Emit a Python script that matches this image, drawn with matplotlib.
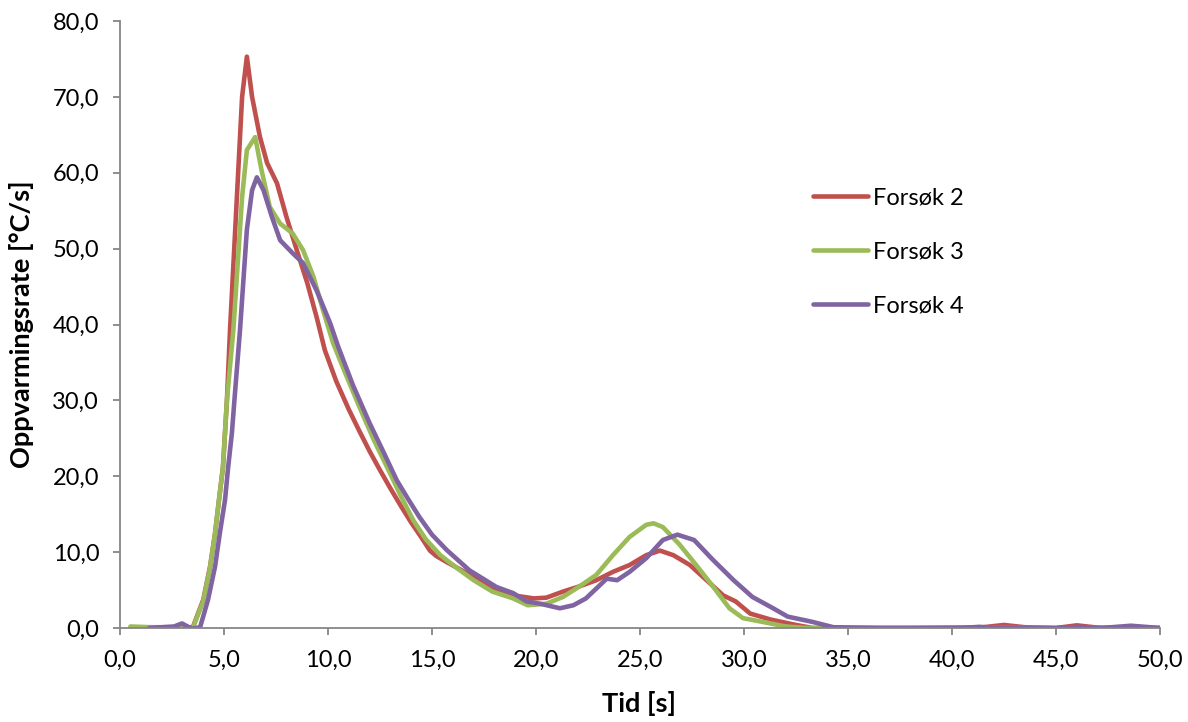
import matplotlib
matplotlib.use("Agg")
import matplotlib.pyplot as plt
from matplotlib.ticker import FuncFormatter, MultipleLocator

plt.rcParams['font.family'] = ['Lato', 'DejaVu Sans']

# Forsøk 2
t2 = [0.5, 1.5, 2.5, 3.5, 4.0, 4.33, 4.57, 4.76, 4.95, 5.14, 5.29, 5.62, 5.87, 6.1, 6.35,
      6.73, 7.07, 7.55, 8.0, 8.5, 9.0, 9.45, 9.85, 10.4, 11.0, 11.5, 12.0, 12.5, 13.0,
      13.5, 14.0, 14.5, 14.9, 15.2, 15.7, 16.7, 17.6, 18.9, 19.9, 20.5, 21.3, 22.1, 22.9,
      23.7, 24.5, 25.3, 25.96, 26.6, 27.4, 28.2, 29.0, 29.6, 30.3, 31.3, 32.5, 33.3, 35.0,
      38.0, 40.0, 41.5, 42.5, 43.5, 45.0, 46.0, 47.0, 48.0, 50.0]
y2 = [0.0, 0.1, 0.1, 0.1, 3.7, 8.1, 12.5, 16.9, 21.2, 30.0, 39.3, 56.8, 70.0, 75.3, 70.0,
      64.7, 61.3, 58.6, 54.2, 49.8, 45.5, 41.0, 36.6, 32.5, 28.8, 26.0, 23.3, 20.8, 18.4,
      16.1, 13.9, 11.9, 10.2, 9.5, 8.7, 7.2, 5.7, 4.3, 3.9, 4.0, 4.8, 5.5, 6.3,
      7.4, 8.3, 9.6, 10.2, 9.6, 8.3, 6.3, 4.3, 3.5, 1.9, 1.1, 0.4, 0.0, 0.0,
      0.0, 0.05, 0.1, 0.4, 0.1, 0.0, 0.35, 0.05, 0.0, 0.0]

# Forsøk 3
t3 = [0.5, 1.5, 2.5, 3.5, 4.0, 4.33, 4.57, 4.76, 4.95, 5.14, 5.45, 5.87, 6.1, 6.5, 6.8,
      7.2, 7.7, 8.3, 8.8, 9.3, 9.76, 10.24, 10.8, 11.5, 12.2, 13.0, 13.5, 14.1, 14.7,
      15.4, 16.2, 17.0, 17.9, 18.9, 19.6, 20.5, 21.3, 22.1, 22.9, 23.7, 24.5, 25.3, 25.65,
      26.1, 26.9, 27.7, 28.5, 29.3, 29.95, 30.9, 32.0, 33.0, 36.0, 40.0, 44.0, 45.5, 47.0,
      50.0]
y3 = [0.2, 0.1, 0.0, 0.0, 3.5, 8.0, 12.5, 16.9, 21.2, 30.0, 39.3, 56.8, 63.0, 64.7, 60.4,
      55.5, 53.3, 52.0, 49.8, 46.3, 41.9, 37.6, 33.8, 29.2, 24.8, 20.3, 17.4, 14.2, 11.7,
      9.6, 7.9, 6.3, 4.8, 3.9, 3.0, 3.2, 4.1, 5.5, 7.0, 9.6, 12.0, 13.6, 13.8,
      13.3, 11.0, 8.3, 5.5, 2.6, 1.3, 0.8, 0.2, 0.0, 0.0, 0.0, 0.0, -0.05, 0.0,
      0.0]

# Forsøk 4
t4 = [1.4, 2.0, 2.6, 2.98, 3.45, 3.85, 4.23, 4.57, 4.8, 5.05, 5.2, 5.38, 5.5, 5.77, 6.1,
      6.35, 6.58, 6.9, 7.3, 7.7, 8.3, 8.8, 9.45, 10.1, 10.5, 11.2, 12.0, 12.7, 13.3, 13.85,
      14.4, 15.0, 15.7, 16.8, 18.1, 18.9, 19.55, 20.2, 21.15, 21.8, 22.4, 22.9, 23.4, 23.9,
      24.5, 25.3, 26.1, 26.8, 27.6, 28.5, 29.5, 30.4, 31.4, 32.1, 33.3, 34.3, 36.5, 39.0,
      40.5, 41.3, 42.2, 45.0, 46.1, 47.2, 48.6, 50.0]
y4 = [0.0, 0.1, 0.2, 0.6, -0.1, 0.1, 3.7, 8.1, 12.5, 16.9, 21.2, 25.7, 30.0, 39.3, 52.5,
      57.7, 59.4, 57.7, 54.2, 51.1, 49.4, 48.1, 44.5, 40.2, 37.0, 32.0, 27.0, 23.0, 19.5, 17.0,
      14.6, 12.3, 10.3, 7.6, 5.4, 4.6, 3.5, 3.2, 2.6, 3.0, 3.9, 5.2, 6.5, 6.3,
      7.4, 9.2, 11.6, 12.3, 11.6, 9.0, 6.3, 4.1, 2.6, 1.5, 0.8, 0.1, 0.0, 0.0,
      0.0, 0.15, 0.0, 0.0, 0.15, 0.0, 0.3, 0.0]

labels = ['Forsøk 2', 'Forsøk 3', 'Forsøk 4']
colors = ['#C0504D', '#9BBB59', '#8064A2']

fig = plt.figure(figsize=(11.88, 7.22), dpi=100)
ax = fig.add_axes([120 / 1188, 1 - 628 / 722, 1040 / 1188, 607 / 722])

for t, y, lab, c in zip([t2, t3, t4], [y2, y3, y4], labels, colors):
    ax.plot(t, y, color=c, lw=3.3, label=lab, solid_joinstyle='round',
            solid_capstyle='round')

ax.set_xlim(0, 50)
ax.set_ylim(0, 80)
ax.xaxis.set_major_locator(MultipleLocator(5))
ax.yaxis.set_major_locator(MultipleLocator(10))
fmt = FuncFormatter(lambda v, p: f"{v:.1f}".replace('.', ','))
ax.xaxis.set_major_formatter(fmt)
ax.yaxis.set_major_formatter(fmt)

grey = '#868686'
for s in ['top', 'right']:
    ax.spines[s].set_visible(False)
for s in ['left', 'bottom']:
    ax.spines[s].set_color(grey)
    ax.spines[s].set_linewidth(1.3)
ax.tick_params(axis='both', colors=grey, width=1.3, labelcolor='black', labelsize=17)
ax.tick_params(axis='y', length=5, pad=10)
ax.tick_params(axis='x', length=5, pad=11)

fig.text(22 / 1188, 1 - 324 / 722, 'Oppvarmingsrate [°C/s]', rotation=90,
         ha='center', va='center', fontsize=19.5, fontweight='bold')
fig.text(639 / 1188, 1 - 704 / 722, 'Tid [s]', ha='center', va='center',
         fontsize=19.5, fontweight='bold')

ax.legend(loc='upper left', bbox_to_anchor=(813 / 1188, 1 - 187 / 722),
          bbox_transform=fig.transFigure, frameon=False, fontsize=17,
          handlelength=2.35, handletextpad=0.2, labelspacing=1.4,
          borderpad=0, borderaxespad=0)

fig.savefig('out.png', dpi=100)
